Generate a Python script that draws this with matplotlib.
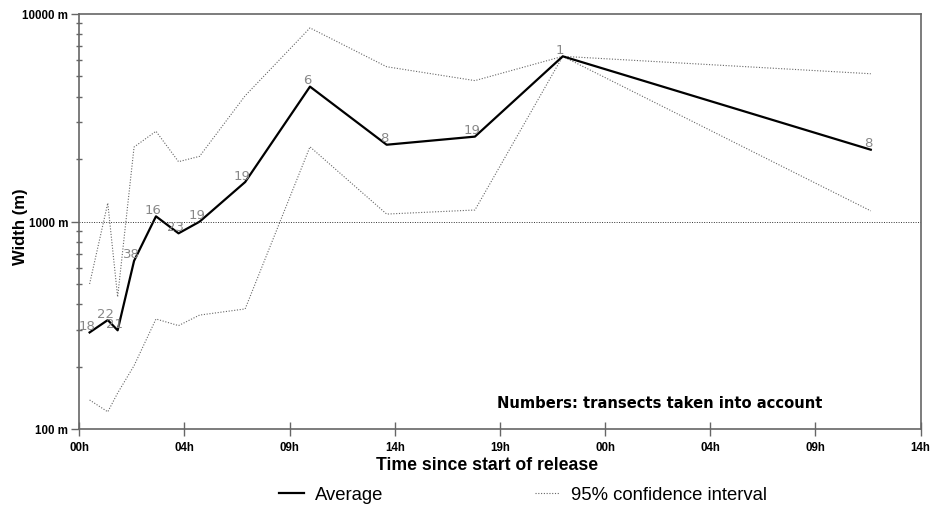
import matplotlib.pyplot as plt
import numpy as np
from matplotlib.ticker import FixedLocator, FuncFormatter, LogLocator, NullFormatter

# hours since start of release
hours = [0.47, 1.3, 1.75, 2.5, 3.5, 4.53, 5.49, 7.57, 10.53, 14.03, 18.06, 22.07, 36.13]
average = [292, 335, 299, 646, 1059, 877, 998, 1549, 4467, 2344, 2565, 6252, 2218]
upper_ci = [500, 1227, 433, 2285, 2722, 1942, 2061, 4036, 8570, 5570, 4775, 6252, 5153]
lower_ci = [138, 121, 149, 202, 339, 315, 354, 379, 2291, 1086, 1136, 6252, 1125]
n_transects = [18, 22, 21, 38, 16, 23, 19, 19, 6, 8, 19, 1, 8]

tick_hours = [0, 4.8, 9.6, 14.4, 19.2, 24, 28.8, 33.6, 38.4]

fig = plt.figure(figsize=(9.33, 5.06), dpi=100)
ax = fig.add_axes([79.3 / 933, 1 - 430 / 506, 841.2 / 933, 415 / 506])

ax.plot(hours, upper_ci, color='#666666', lw=0.8, linestyle=(0, (1, 1.5)))
ax.plot(hours, lower_ci, color='#666666', lw=0.8, linestyle=(0, (1, 1.5)))
ax.plot(hours, average, color='black', lw=1.6)

for h, v, n in zip(hours, average, n_transects):
    ax.annotate(str(n), (h, v), xytext=(-2, 2.5), textcoords='offset points',
                ha='center', va='baseline', fontsize=9.5, color='#888888',
                family='DejaVu Sans')

ax.axhline(1000, color='#333333', lw=0.7, linestyle=(0, (1, 1.5)))

ax.set_yscale('log')
ax.set_ylim(100, 10000)
ax.set_xlim(0, 38.4)

ax.yaxis.set_major_locator(FixedLocator([100, 1000, 10000]))
ax.yaxis.set_major_formatter(FuncFormatter(lambda v, p: '%d m' % v))
ax.yaxis.set_minor_locator(LogLocator(base=10, subs=np.arange(2, 10)))
ax.yaxis.set_minor_formatter(NullFormatter())

ax.xaxis.set_major_locator(FixedLocator(tick_hours))
ax.xaxis.set_major_formatter(FuncFormatter(lambda h, p: '%02dh' % int(round(h, 3) % 24)))

for s in ax.spines.values():
    s.set_color('#666666')
    s.set_linewidth(1.2)

ax.tick_params(axis='y', which='major', direction='out', length=6, width=1, color='#666666', pad=2)
ax.tick_params(axis='y', which='minor', direction='inout', length=5, width=1, color='#666666')
ax.tick_params(axis='x', which='major', direction='inout', length=10, width=1, color='#666666', pad=4)
for lab in ax.get_xticklabels() + ax.get_yticklabels():
    lab.set_fontfamily('Liberation Sans')
    lab.set_fontweight('bold')
    lab.set_fontsize(8.3)

ax.set_xlabel('Time since start of release', fontsize=12.7, fontweight='bold',
              family='Liberation Sans')
ax.xaxis.set_label_coords((487 - 79.3) / 841.2, -0.066)
ax.set_ylabel('Width (m)', fontsize=12, fontweight='bold', family='Liberation Sans')
ax.yaxis.set_label_coords(-0.061, 0.49)

ax.text((822 - 79.3) / 841.2, 0.063, 'Numbers: transects taken into account',
        transform=ax.transAxes, ha='right', va='center', fontsize=10.6,
        fontweight='bold', family='DejaVu Sans')

avg_handle, = ax.plot([], [], color='black', lw=1.6, label='Average')
ci_handle, = ax.plot([], [], color='#666666', lw=0.8, linestyle=(0, (1, 1.5)),
                     label='95% confidence interval')
fig.legend(handles=[avg_handle, ci_handle], loc='center', bbox_to_anchor=(523 / 933, 1 - 496 / 506),
           ncol=2, frameon=False, handlelength=1.35, handletextpad=0.6, columnspacing=8.2,
           prop={'family': 'Liberation Sans', 'size': 13.3})

fig.savefig('out.png', dpi=100)
